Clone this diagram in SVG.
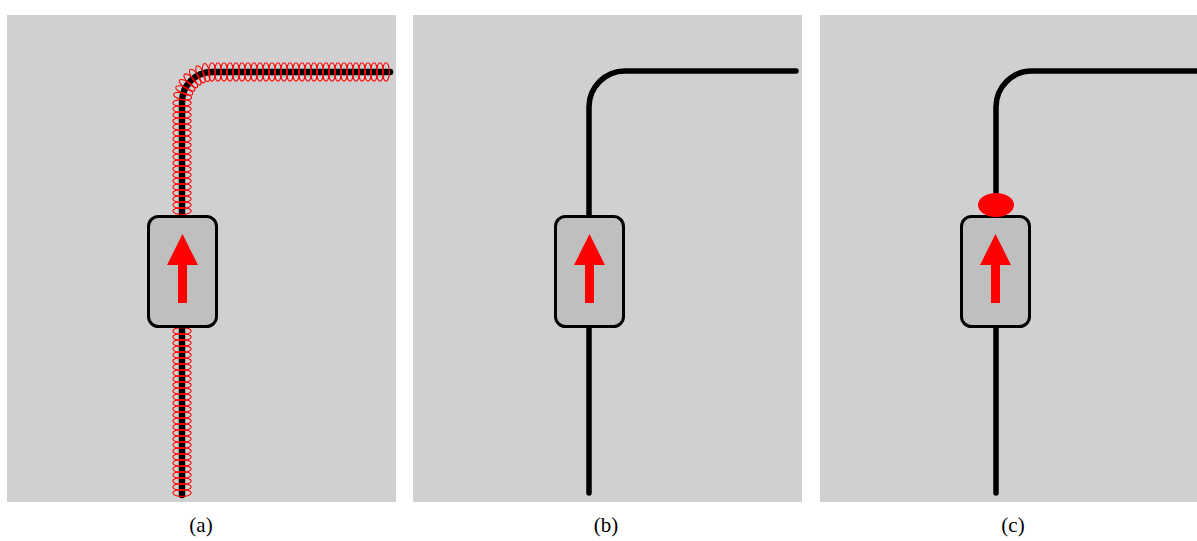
<svg xmlns="http://www.w3.org/2000/svg" xmlns:xlink="http://www.w3.org/1999/xlink" width="1197" height="541" viewBox="0 0 1197 541">
  <style>
    .panel { fill: #d0d0d0; }
    .wire { fill: none; stroke: #000; stroke-linecap: round; stroke-linejoin: round; }
    .coil { fill: none; stroke: #ff0000; stroke-width: 1.1; }
    .box { fill: #bfbfbf; stroke: #000; stroke-width: 3; }
    .dir { fill: #ff0000; }
    .label { font-family: "Liberation Serif", "DejaVu Serif", serif; font-size: 21px; fill: #000; text-anchor: middle; }
  </style>
  <defs>
    <ellipse id="ring" class="coil" cx="0" cy="0" rx="9.2" ry="3.4"/>
    <!-- device: rounded box with an upward red arrow -->
    <g id="device">
      <rect class="box" x="148.5" y="216.5" width="68" height="110" rx="10"/>
      <polygon class="dir" points="182.5,234 198,265 187,265 187,303 178,303 178,265 167,265"/>
    </g>
  </defs>

  <rect class="panel" x="7" y="15" width="389" height="487"/>
  <rect class="panel" x="413" y="15" width="389" height="487"/>
  <rect class="panel" x="820" y="15" width="377" height="487"/>

  <!-- (a) wire wrapped in a coil -->
  <g id="panel-a">
    <g id="connectors-a">
      <path class="wire" stroke-width="6.5" d="M182,495 V102 A30,30 0 0 1 212,72 H390"/>
      <g id="coil-a">
        <!-- lower straight run -->
        <use href="#ring" x="182" y="493"/><use href="#ring" x="182" y="487"/><use href="#ring" x="182" y="481"/>
        <use href="#ring" x="182" y="475"/><use href="#ring" x="182" y="469"/><use href="#ring" x="182" y="463"/>
        <use href="#ring" x="182" y="457"/><use href="#ring" x="182" y="451"/><use href="#ring" x="182" y="445"/>
        <use href="#ring" x="182" y="439"/><use href="#ring" x="182" y="433"/><use href="#ring" x="182" y="427"/>
        <use href="#ring" x="182" y="421"/><use href="#ring" x="182" y="415"/><use href="#ring" x="182" y="409"/>
        <use href="#ring" x="182" y="403"/><use href="#ring" x="182" y="397"/><use href="#ring" x="182" y="391"/>
        <use href="#ring" x="182" y="385"/><use href="#ring" x="182" y="379"/><use href="#ring" x="182" y="373"/>
        <use href="#ring" x="182" y="367"/><use href="#ring" x="182" y="361"/><use href="#ring" x="182" y="355"/>
        <use href="#ring" x="182" y="349"/><use href="#ring" x="182" y="343"/><use href="#ring" x="182" y="337"/>
        <use href="#ring" x="182" y="331"/>
        <!-- upper straight run -->
        <use href="#ring" x="182" y="211"/><use href="#ring" x="182" y="205"/><use href="#ring" x="182" y="199"/>
        <use href="#ring" x="182" y="193"/><use href="#ring" x="182" y="187"/><use href="#ring" x="182" y="181"/>
        <use href="#ring" x="182" y="175"/><use href="#ring" x="182" y="169"/><use href="#ring" x="182" y="163"/>
        <use href="#ring" x="182" y="157"/><use href="#ring" x="182" y="151"/><use href="#ring" x="182" y="145"/>
        <use href="#ring" x="182" y="139"/><use href="#ring" x="182" y="133"/><use href="#ring" x="182" y="127"/>
        <use href="#ring" x="182" y="121"/><use href="#ring" x="182" y="115"/><use href="#ring" x="182" y="109"/>
        <use href="#ring" x="182" y="103"/>
        <!-- bend -->
        <use href="#ring" transform="translate(182.6,96.2) rotate(11.25)"/>
        <use href="#ring" transform="translate(184.3,90.5) rotate(22.5)"/>
        <use href="#ring" transform="translate(187.1,85.3) rotate(33.75)"/>
        <use href="#ring" transform="translate(190.8,80.8) rotate(45)"/>
        <use href="#ring" transform="translate(195.3,77.1) rotate(56.25)"/>
        <use href="#ring" transform="translate(200.5,74.3) rotate(67.5)"/>
        <use href="#ring" transform="translate(206.2,72.6) rotate(78.75)"/>
        <!-- horizontal run -->
        <g transform="translate(0,72)">
          <use href="#ring" transform="translate(212,0) rotate(90)"/><use href="#ring" transform="translate(218,0) rotate(90)"/>
          <use href="#ring" transform="translate(224,0) rotate(90)"/><use href="#ring" transform="translate(230,0) rotate(90)"/>
          <use href="#ring" transform="translate(236,0) rotate(90)"/><use href="#ring" transform="translate(242,0) rotate(90)"/>
          <use href="#ring" transform="translate(248,0) rotate(90)"/><use href="#ring" transform="translate(254,0) rotate(90)"/>
          <use href="#ring" transform="translate(260,0) rotate(90)"/><use href="#ring" transform="translate(266,0) rotate(90)"/>
          <use href="#ring" transform="translate(272,0) rotate(90)"/><use href="#ring" transform="translate(278,0) rotate(90)"/>
          <use href="#ring" transform="translate(284,0) rotate(90)"/><use href="#ring" transform="translate(290,0) rotate(90)"/>
          <use href="#ring" transform="translate(296,0) rotate(90)"/><use href="#ring" transform="translate(302,0) rotate(90)"/>
          <use href="#ring" transform="translate(308,0) rotate(90)"/><use href="#ring" transform="translate(314,0) rotate(90)"/>
          <use href="#ring" transform="translate(320,0) rotate(90)"/><use href="#ring" transform="translate(326,0) rotate(90)"/>
          <use href="#ring" transform="translate(332,0) rotate(90)"/><use href="#ring" transform="translate(338,0) rotate(90)"/>
          <use href="#ring" transform="translate(344,0) rotate(90)"/><use href="#ring" transform="translate(350,0) rotate(90)"/>
          <use href="#ring" transform="translate(356,0) rotate(90)"/><use href="#ring" transform="translate(362,0) rotate(90)"/>
          <use href="#ring" transform="translate(368,0) rotate(90)"/><use href="#ring" transform="translate(374,0) rotate(90)"/>
          <use href="#ring" transform="translate(380,0) rotate(90)"/><use href="#ring" transform="translate(386,0) rotate(90)"/>
        </g>
      </g>
    </g>
    <g id="node-a"><use href="#device"/></g>
    <text class="label" x="201" y="532">(a)</text>
  </g>

  <!-- (b) bare wire -->
  <g id="panel-b">
    <g id="connectors-b">
      <path class="wire" stroke-width="5.5" d="M589,493 V107 A36,36 0 0 1 625,71 H796"/>
    </g>
    <g id="node-b"><use href="#device" x="407"/></g>
    <text class="label" x="606" y="532">(b)</text>
  </g>

  <!-- (c) wire with a red blob above the device -->
  <g id="panel-c">
    <g id="connectors-c">
      <path class="wire" stroke-width="5.5" d="M996,493 V107 A36,36 0 0 1 1032,71 H1200"/>
    </g>
    <g id="node-c"><use href="#device" x="813"/></g>
    <g id="blob-c"><ellipse cx="996" cy="205" rx="18" ry="12" fill="#ff0000"/></g>
    <text class="label" x="1013" y="532">(c)</text>
  </g>
</svg>
